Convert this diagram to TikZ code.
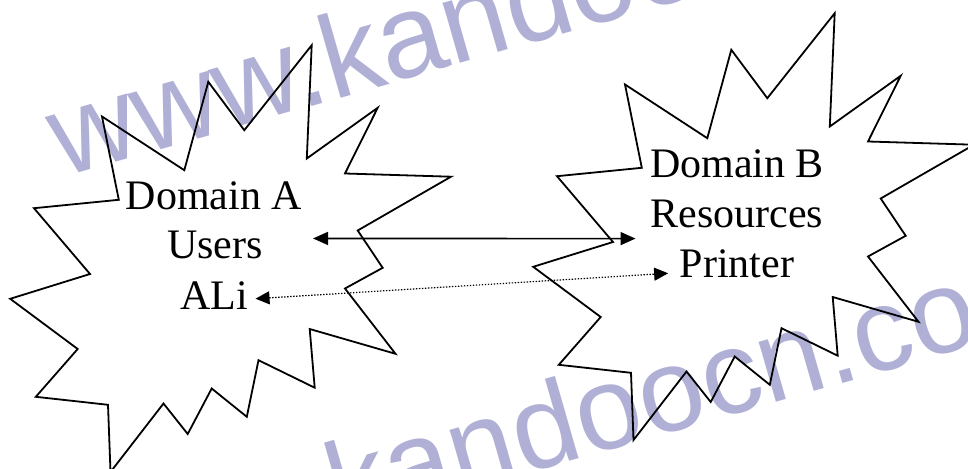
\documentclass[tikz,border=0pt]{standalone}
\usepackage{fontspec}
\setmainfont{Liberation Serif}
\newfontfamily\markfont{Liberation Sans}
\usetikzlibrary{arrows.meta}
\definecolor{markblue}{RGB}{176,176,214}
\tikzset{
  burst/.pic={
    \draw[line width=1.8pt, line join=miter]
      (102,116.5) -- (184.3,170.2) -- (208.3,81.8) -- (244.3,130.2) -- (311.7,45.2)
      -- (306.8,158.5) -- (377.7,107.8) -- (345,173.5) -- (451,176.7) -- (357.7,230.5)
      -- (382.7,267.8) -- (345,288.5) -- (395.5,353.8) -- (309.7,329) -- (314.7,387.7)
      -- (258.5,360.2) -- (246.8,416.8) -- (211.7,388.5) -- (187.7,434) -- (163.5,403.5)
      -- (110.5,472) -- (108,404.8) -- (35.8,396.8) -- (77.7,349) -- (10.2,298.8)
      -- (90,274) -- (34,208.2) -- (118.8,199.8) -- cycle;
  },
  lbl/.style={font=\fontsize{42}{50}\selectfont, inner sep=0pt, anchor=base},
  wmark/.style={font=\markfont\fontsize{118}{118}\selectfont, text=markblue,
    inner sep=0pt, anchor=base west, rotate=16},
  tip/.style={Triangle[length=15pt,width=13pt]},
  link/.style={line width=1.6pt, {Triangle[length=15pt,width=13pt]}-{Triangle[length=15pt,width=13pt]}},
  dotlink/.style={line width=1.2pt, dash pattern=on 1.4pt off 1.6pt,
    {Triangle[length=14pt,width=13pt]}-{Triangle[length=14pt,width=13pt]}}
}
\begin{document}
\begin{tikzpicture}[x=1pt,y=-1pt]
  \useasboundingbox (0,0) rectangle (968,468);
  \clip (0,0) rectangle (968,468);
  % watermark
  \node[wmark] (wmTop) at (62,178) {www.kandoocn.com};
  \node[wmark] (wmLow) at (69,605) {www.kandoocn.com};
  % the two domains
  \pic (starA) at (0,0) {burst};
  \pic (starB) at (523,-32) {burst};
  \node[lbl] (aDom) at (214,209) {Domain A};
  \node[lbl] (aUsers) at (215,258.5) {Users};
  \node[lbl] (aAli) at (214,309) {ALi};
  \node[lbl] (bDom) at (737,177) {Domain B};
  \node[lbl] (bRes) at (737,227) {Resources};
  \node[lbl] (bPrn) at (737,277) {Printer};
  % trust links
  \draw[link] ([xshift=50pt,yshift=6.5pt]aUsers.east) -- ([xshift=-15pt,yshift=-11pt]bRes.south west);
  \draw[dotlink] ([xshift=7.5pt,yshift=-3.6pt]aAli.east) -- ([xshift=-11.5pt,yshift=-10pt]bPrn.west);
\end{tikzpicture}
\end{document}
